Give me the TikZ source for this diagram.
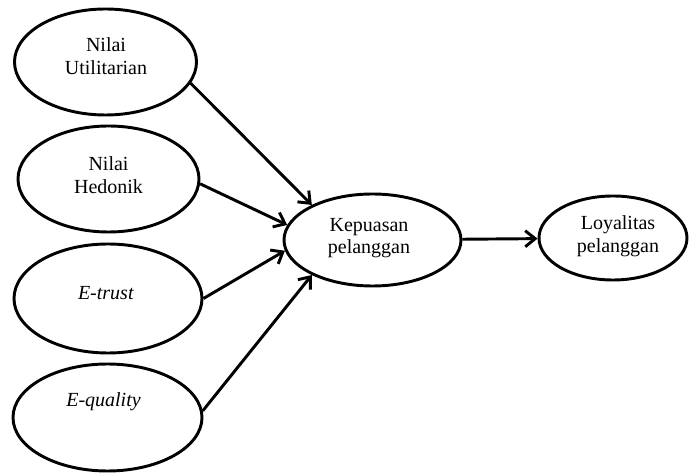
\documentclass[tikz,border=0pt]{standalone}
\usepackage{fontspec}
\setmainfont{Liberation Serif}
\usepackage{tikz}
\usetikzlibrary{arrows.meta,shapes.geometric}
\definecolor{Ink}{HTML}{000000}
\tikzset{
  latent/.style={ellipse,draw=Ink,line width=2.2pt,inner sep=0pt},
  arrow/.style={-{Straight Barb[length=7.5pt,width=12pt]},line width=2.2pt,draw=Ink},
  note/.style={font=\fontsize{15}{17}\selectfont,align=center,text=Ink,inner sep=0pt}
}

\begin{document}
\begin{tikzpicture}[x=0.75pt,y=-0.75pt]
  \useasboundingbox (0,0) rectangle (689,473);
  % exogenous constructs
  \node[latent,minimum width=136.5pt,minimum height=79.5pt] (util) at (105.5,62) {};
  \node[latent,minimum width=135.75pt,minimum height=79.5pt] (hed) at (108.5,179) {};
  \node[latent,minimum width=141pt,minimum height=81.75pt] (trust) at (108,298.5) {};
  \node[latent,minimum width=141.75pt,minimum height=80.25pt] (qual) at (107.5,417.5) {};
  % mediator and outcome
  \node[latent,minimum width=132.75pt,minimum height=69pt] (kep) at (372.5,240) {};
  \node[latent,minimum width=111pt,minimum height=63pt] (loy) at (613,238) {};
  % texts
  \node[note] (util-txt) at (106,56) {Nilai\\Utilitarian};
  \node[note] (hed-txt) at (108.5,175) {Nilai\\Hedonik};
  \node[note] (trust-txt) at (106,293) {\textit{E-trust}};
  \node[note] (qual-txt) at (103.5,402) {\textit{E-quality}};
  \node[note] (kep-txt) at (369,238) {Kepuasan\\pelanggan};
  \node[note] (loy-txt) at (618,236) {Loyalitas\\pelanggan};
  % paths
  \draw[arrow] (util.-14) -- (kep.150);
  \draw[arrow] (hed.-3) -- (kep.170);
  \draw[arrow] (trust.0) -- (kep.187);
  \draw[arrow] (qual.4) -- (kep.210);
  \draw[arrow] (kep) -- (loy);
\end{tikzpicture}
\end{document}
